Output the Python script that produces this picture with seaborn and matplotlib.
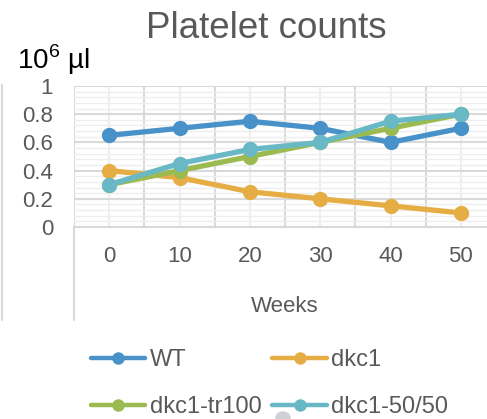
import matplotlib
matplotlib.use("Agg")
import matplotlib.pyplot as plt
import seaborn as sns
import pandas as pd
import numpy as np
from matplotlib.lines import Line2D
from matplotlib.patches import Circle

# Platelet counts per group over time
weeks = [0, 10, 20, 30, 40, 50]
wt = [0.65, 0.70, 0.75, 0.70, 0.60, 0.70]
dkc1 = [0.40, 0.35, 0.25, 0.20, 0.15, 0.10]
dkc1_tr100 = [0.30, 0.40, 0.50, 0.60, 0.70, 0.80]
dkc1_5050 = [0.30, 0.45, 0.55, 0.60, 0.75, 0.80]
groups = ["WT", "dkc1", "dkc1-tr100", "dkc1-50/50"]
colors = ["#4892C9", "#E6AD45", "#9BBB50", "#68B8C5"]
y_ticks = [0, 0.2, 0.4, 0.6, 0.8, 1]
y_tick_labels = ["0", "0.2", "0.4", "0.6", "0.8", "1"]

df = pd.DataFrame({
    "week": weeks * 4,
    "count": wt + dkc1 + dkc1_tr100 + dkc1_5050,
    "group": [g for g in groups for _ in weeks],
})

sns.set_theme(style="white")
plt.rcParams["font.family"] = ["Liberation Sans", "DejaVu Sans"]
plt.rcParams["mathtext.fontset"] = "custom"
plt.rcParams["mathtext.rm"] = "Liberation Sans"

W, H = 487, 419
fig = plt.figure(figsize=(W / 100, H / 100), dpi=100)
fig.patch.set_facecolor("white")

left, right, top, bottom = 74, 496, 86, 227
ax = fig.add_axes([left / W, 1 - bottom / H, (right - left) / W, (bottom - top) / H])
ax.set_facecolor("white")

text_gray = "#595959"
major_grid = "#D9D9D9"
minor_grid = "#EEEEEE"

sns.lineplot(data=df, x="week", y="count", hue="group", hue_order=groups,
             palette=colors, marker="o", markersize=11, linewidth=3.8,
             markeredgewidth=0, ax=ax, legend=False, clip_on=False, zorder=3)

ax.set_xlim(-5, 55)
ax.set_ylim(0, 1)
ax.set_xticks(weeks)
ax.set_xticklabels([str(w) for w in weeks])
ax.set_xticks([w - 5 for w in weeks] + [55], minor=True)
ax.set_yticks(y_ticks)
ax.set_yticklabels(y_tick_labels)
ax.set_yticks(np.arange(0, 1.0001, 0.04), minor=True)

ax.grid(axis="x", which="major", color=minor_grid, linewidth=1.5, zorder=0)
ax.grid(axis="x", which="minor", color=major_grid, linewidth=1.5, zorder=0)
ax.grid(axis="y", which="major", color=major_grid, linewidth=1.5, zorder=0)
ax.grid(axis="y", which="minor", color=minor_grid, linewidth=1.0, zorder=0)
ax.set_axisbelow(True)

for s in ["top", "right", "left"]:
    ax.spines[s].set_visible(False)
ax.spines["bottom"].set_color(major_grid)
ax.spines["bottom"].set_linewidth(1.5)

ax.tick_params(axis="both", which="both", length=0)
ax.tick_params(axis="y", pad=15, labelsize=16, labelcolor=text_gray)
ax.tick_params(axis="x", pad=14, labelsize=16, labelcolor=text_gray)
ax.set_xlabel("")
ax.set_ylabel("")

# Titles and axis labels
fig.text(266 / W, 1 - 38 / H, "Platelet counts", ha="center", va="baseline",
         fontsize=26.5, color=text_gray)
fig.text(17 / W, 1 - 69 / H, r"10$^{6}$ µl", ha="left", va="baseline",
         fontsize=20, color="black")
fig.text(285 / W, 1 - 312 / H, "Weeks", ha="center", va="baseline",
         fontsize=16, color=text_gray)

# Frame lines on the left
fig.add_artist(Line2D([left / W, left / W], [1 - 227 / H, 1 - 320 / H],
                      color=major_grid, linewidth=1.5))
fig.add_artist(Line2D([2 / W, 2 / W], [1 - 85 / H, 1 - 320 / H],
                      color=major_grid, linewidth=1.5))

# Legend, two rows of two
handles = [Line2D([0], [0], color=c, linewidth=3.2, marker="o", markersize=9,
                  markeredgewidth=0) for c in colors]
order = [0, 2, 1, 3]
leg = fig.legend([handles[i] for i in order], [groups[i] for i in order],
                 ncol=2, loc="upper left", bbox_to_anchor=(91 / W, 1 - 349 / H),
                 frameon=False, fontsize=17, handlelength=2.3, handletextpad=0.2,
                 columnspacing=0.45, labelspacing=1.05, borderpad=0, borderaxespad=0)
for t in leg.get_texts():
    t.set_color(text_gray)

# Selection handle at the bottom edge
fig.add_artist(Circle((283 / W, 1 - 418 / H), 7 / W, color="#CDD1D5",
                      transform=fig.transFigure))

fig.savefig("out.png", dpi=100, facecolor="white")
